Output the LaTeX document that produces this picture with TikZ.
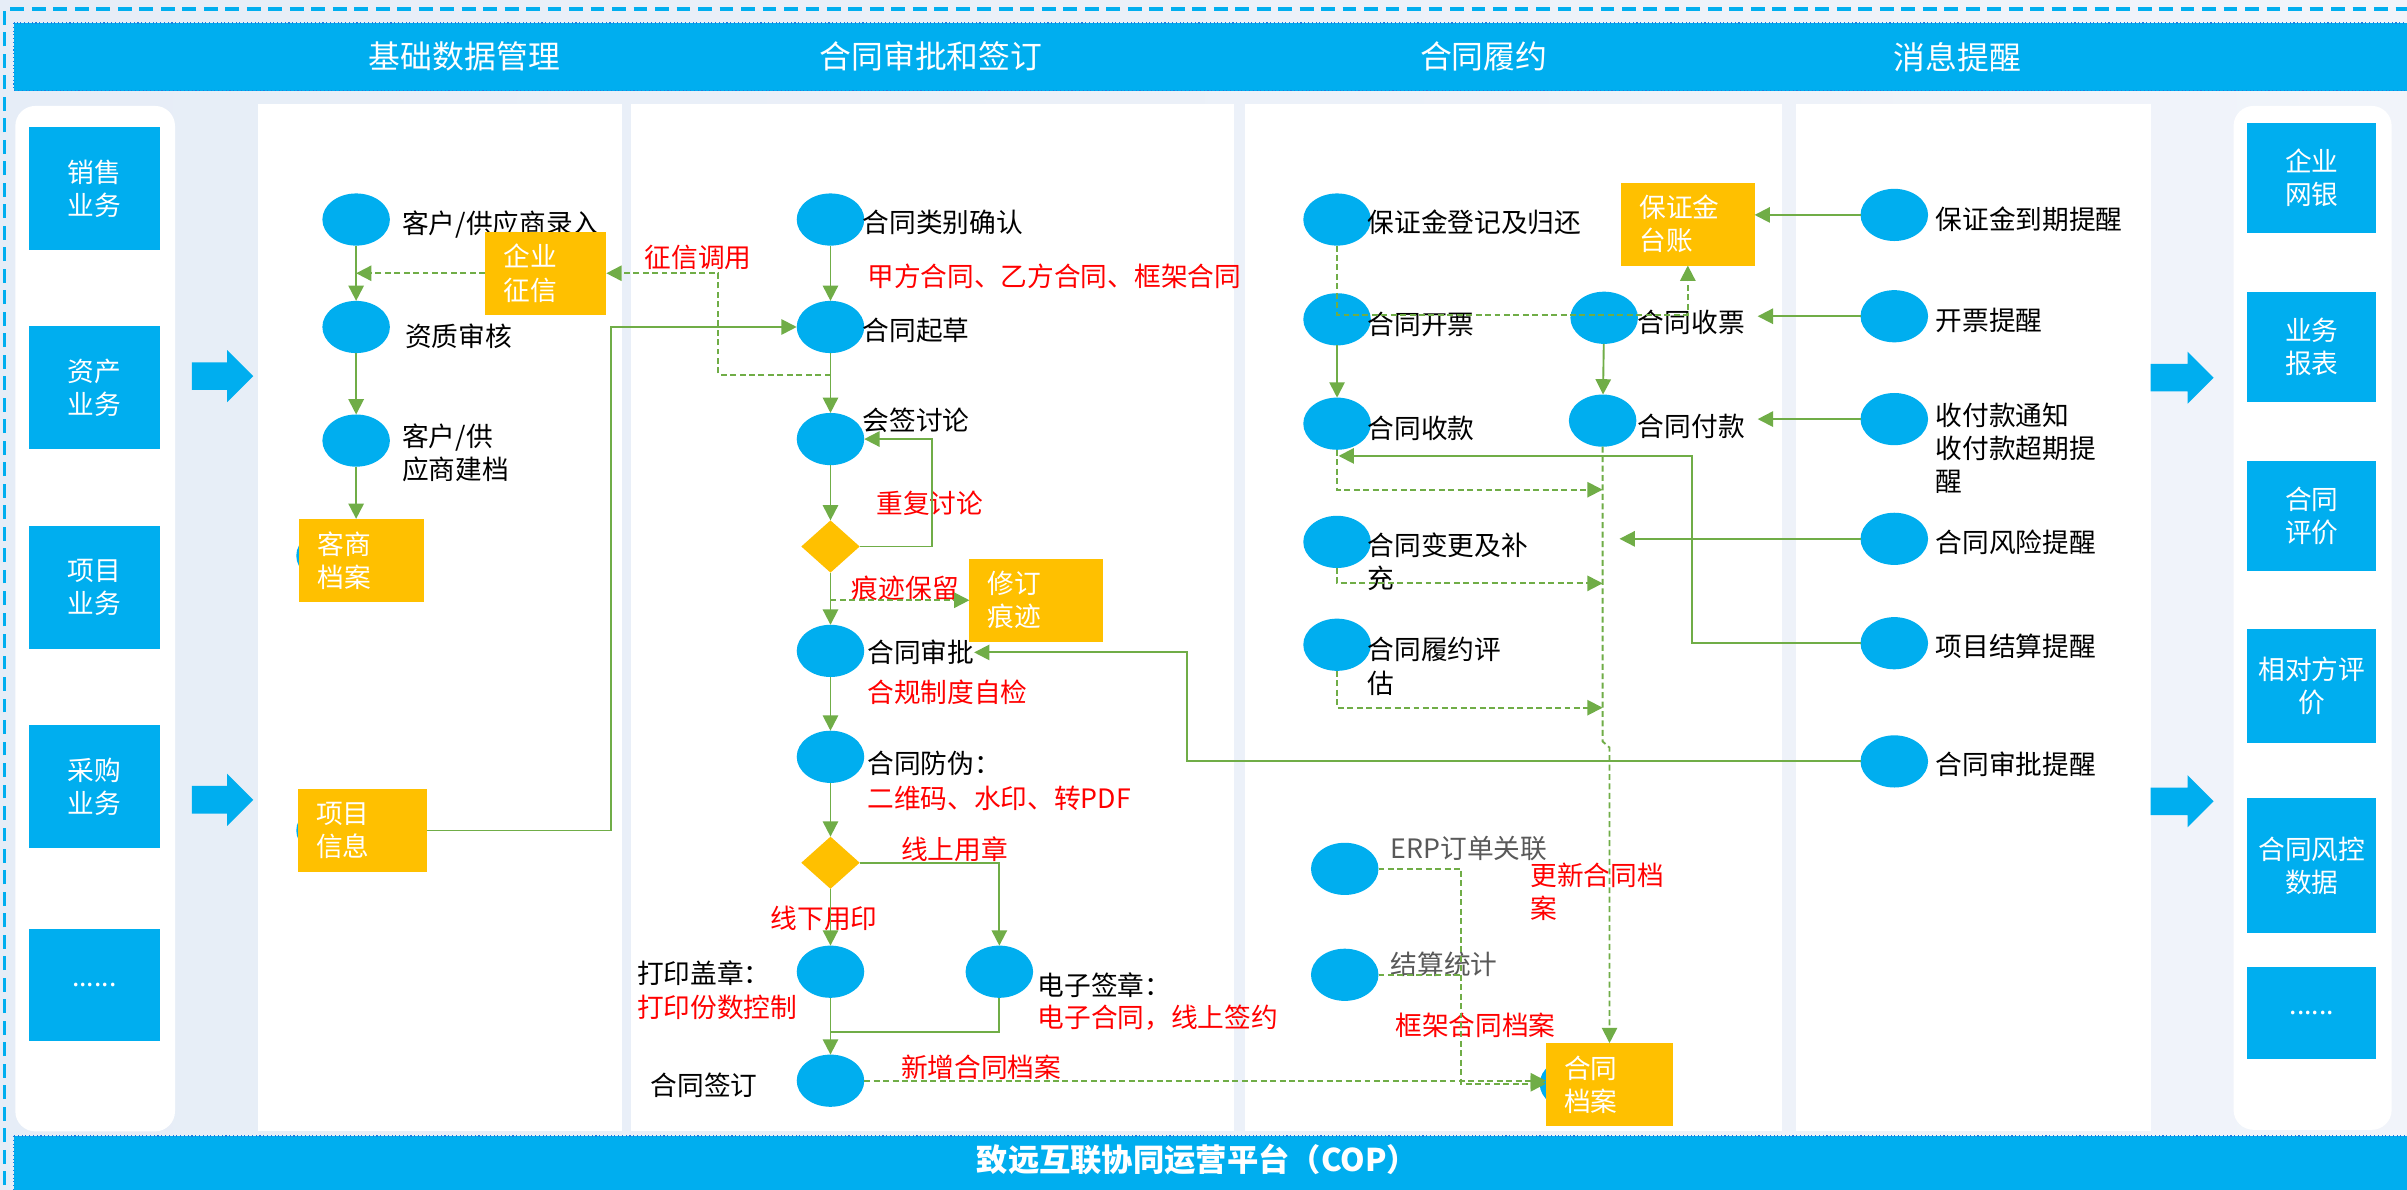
\documentclass[tikz,border=0pt]{standalone}
\usepackage{fontspec}
\setmainfont{Noto Sans CJK SC}
\usetikzlibrary{arrows.meta,shapes.geometric}
\definecolor{cy}{HTML}{00AEEF}
\definecolor{yl}{HTML}{FFC000}
\definecolor{gr}{HTML}{70AD47}
\definecolor{rd}{HTML}{FF0000}
\definecolor{gy}{HTML}{595959}
\definecolor{bgl}{HTML}{E6EDF7}
\definecolor{bgr}{HTML}{F1F4FA}
\definecolor{frm}{HTML}{1C7FE0}
\begin{document}
\begin{tikzpicture}[x=0.02cm, y=-0.02cm,
  every node/.style={inner sep=0pt, outer sep=0pt},
  bodyfont/.style={font=\fontsize{9.9}{12.3}\selectfont},
  txt/.style={bodyfont, anchor=west, align=left},
  rtxt/.style={txt, text=rd},
  gtxt/.style={txt, text=gy},
  circ/.style={ellipse, fill=cy, minimum width=0.88cm, minimum height=0.68cm},
  dia/.style={diamond, fill=yl, minimum width=0.76cm, minimum height=0.68cm},
  ybox/.style={bodyfont, fill=yl, text=white, align=left, inner xsep=0.24cm, minimum height=1.08cm},
  bbox/.style={bodyfont, fill=cy, text=white, align=center, minimum width=1.7cm},
  rbox/.style={bodyfont, fill=cy, text=white, align=center, minimum width=1.68cm},
  gl/.style={draw=gr, line width=0.7pt},
  dl/.style={gl, dash pattern=on 2.2pt off 1.3pt},
  ar/.style={-{Triangle[length=0.2cm,width=0.2cm]}},
  hdr/.style={font=\fontsize{11.8}{14}\selectfont, text=white}
]
\useasboundingbox (0,0) rectangle (1568,775);
% background
\shade[left color=bgl, right color=bgr] (0,0) rectangle (1568,775);
\draw[cy, line width=1.3pt, dash pattern=on 0.18cm off 0.1cm] (3,800) -- (3,6) -- (1600,6);
% side panels
\fill[white, rounded corners=0.26cm] (10,69) rectangle (114,737);
\fill[white, rounded corners=0.26cm] (1455,69) rectangle (1558,736);
% middle panels
\fill[white] (168,68) rectangle (405,737);
\fill[white] (411,68) rectangle (804,737);
\fill[white] (811,68) rectangle (1161,737);
\fill[white] (1170,68) rectangle (1401,737);
% header and footer bands
\fill[cy] (9,15) rectangle (1568,59);
\draw[frm, densely dotted, line width=0.4pt] (9,15) rectangle (1570,59);
\fill[cy] (9,740) rectangle (1568,775);
\draw[frm, densely dotted, line width=0.4pt] (9,740) rectangle (1570,777);
\node[hdr] (h1) at (302.5,37) {基础数据管理};
\node[hdr] (h2) at (606.5,37) {合同审批和签订};
\node[hdr] (h3) at (966.5,37) {合同履约};
\node[hdr] (h4) at (1275,37) {消息提醒};
\node[font=\fontsize{11.6}{14}\selectfont\bfseries, text=white] (cop) at (780,755) {致远互联协同运营平台（COP）};
% left boxes
\node[bbox, minimum height=1.6cm] (xs) at (61.5,123) {销售\\业务};
\node[bbox, minimum height=1.6cm] (zc) at (61.5,252.5) {资产\\业务};
\node[bbox, minimum height=1.6cm] (xmyw) at (61.5,382.5) {项目\\业务};
\node[bbox, minimum height=1.6cm] (cg) at (61.5,512.5) {采购\\业务};
\node[bbox, minimum height=1.46cm] (ld) at (61.5,641.5) {......};
% right boxes
\node[rbox, minimum height=1.44cm] (wy) at (1506,116) {企业\\网银};
\node[rbox, minimum height=1.44cm] (bb) at (1506,226) {业务\\报表};
\node[rbox, minimum height=1.44cm] (pj) at (1506,336) {合同\\评价};
\node[rbox, minimum height=1.48cm] (xd) at (1506,447) {相对方评\\价};
\node[rbox, minimum height=1.76cm] (fkd) at (1506,564) {合同风控\\数据};
\node[rbox, minimum height=1.2cm] (rd2) at (1506,660) {......};
% block arrows
\fill[cy] (125,236) -- (148,236) -- (148,228) -- (165,245) -- (148,262) -- (148,254) -- (125,254) -- cycle;
\fill[cy] (125,512) -- (148,512) -- (148,504) -- (165,521) -- (148,538) -- (148,530) -- (125,530) -- cycle;
\fill[cy] (1401,237) -- (1425,237) -- (1425,229) -- (1442,246) -- (1425,263) -- (1425,255) -- (1401,255) -- cycle;
\fill[cy] (1401,513) -- (1425,513) -- (1425,505) -- (1442,522) -- (1425,539) -- (1425,531) -- (1401,531) -- cycle;
% ===== panel 1 =====
\node[circ] (kh) at (232,143) {};
\node[circ] (zz) at (232,213) {};
\node[circ] (jd) at (232,287) {};
\node[circ] (ksE) at (215,362) {};
\node[circ] (xmE) at (215,541) {};
\node[ybox, text width=1.14cm] (ks) at (235.5,365) {客商\\档案};
\node[ybox, text width=1.2cm] (xmxx) at (236,541) {项目\\信息};
\node[txt] (lkh) at (262,146) {客户/供应商录入};
\node[ybox, text width=1.1cm] (qyzx) at (355.5,178) {企业\\征信};
\node[txt] (lzz) at (264,219) {资质审核};
\node[txt] (ljd) at (262,295) {客户/供\\应商建档};
\node[rtxt] (lzxdy) at (420,168) {征信调用};
% ===== panel 2 =====
\node[circ] (lb) at (541,143) {};
\node[circ] (qc) at (541,213) {};
\node[circ] (hq) at (541,286) {};
\node[dia] (dm1) at (541,356) {};
\node[circ] (spn) at (541,424) {};
\node[circ] (fw) at (541,493) {};
\node[dia] (dm2) at (541,562) {};
\node[circ] (dy) at (541,633) {};
\node[circ] (dz) at (651,633) {};
\node[circ] (qd) at (541,704) {};
\node[ybox, text width=1.26cm] (xdhj) at (675,391) {修订\\痕迹};
\node[txt] (llb) at (562,145) {合同类别确认};
\node[rtxt] (llx) at (565,180) {甲方合同、乙方合同、框架合同};
\node[txt] (lqc) at (562,215) {合同起草};
\node[txt] (lhq) at (562,274) {会签讨论};
\node[rtxt] (lcf) at (571,328) {重复讨论};
\node[rtxt] (lhj) at (555,383) {痕迹保留};
\node[txt] (spl) at (565,425) {合同审批};
\node[rtxt] (lhg) at (565,451) {合规制度自检};
\node[txt] (lfw) at (565,497) {合同防伪：};
\node[rtxt] (lfw2) at (565,520) {二维码、水印、转PDF};
\node[rtxt] (lxs) at (587,553) {线上用章};
\node[rtxt] (lxx) at (502,598) {线下用印};
\node[txt] (ldy) at (415,634) {打印盖章：};
\node[rtxt] (ldy2) at (415,656) {打印份数控制};
\node[txt] (ldz) at (676,642) {电子签章：};
\node[rtxt] (ldz2) at (676,663) {电子合同，线上签约};
\node[txt] (lqd) at (424,707) {合同签订};
\node[rtxt] (lxz) at (587,695) {新增合同档案};
% ===== panel 3 =====
\node[circ] (bzj) at (871,143) {};
\node[circ] (kp) at (871,208) {};
\node[circ] (sp) at (1045,207) {};
\node[circ] (sk) at (871,276) {};
\node[circ] (fk) at (1044,274) {};
\node[circ] (bgz) at (871,353) {};
\node[circ] (py) at (871,420) {};
\node[circ] (erp) at (876,566) {};
\node[circ] (jstj) at (876,635) {};
\node[circ] (daE) at (1025,706) {};
\node[ybox, text width=1.26cm] (tz) at (1099.5,146) {保证金\\台账};
\node[ybox, text width=1.18cm] (htda) at (1048.5,706.5) {合同\\档案};
\node[txt] (lbzj) at (891,145) {保证金登记及归还};
\node[txt] (lkp) at (891,211) {合同开票};
\node[txt] (lsp) at (1067,210) {合同收票};
\node[txt] (lsk) at (891,279) {合同收款};
\node[txt] (lfk) at (1067,278) {合同付款};
\node[txt] (lbg) at (891,366) {合同变更及补\\充};
\node[txt] (lpy) at (891,434) {合同履约评\\估};
\node[gtxt] (lerp) at (906,553) {ERP订单关联};
\node[gtxt] (ljs) at (906,628) {结算统计};
\node[rtxt] (lgx) at (997,581) {更新合同档\\案};
\node[rtxt] (lkj) at (909,668) {框架合同档案};
% ===== panel 4 =====
\node[circ] (bztx) at (1234,140) {};
\node[circ] (kptx) at (1234,206) {};
\node[circ] (sfktx) at (1234,273) {};
\node[circ] (fxtx) at (1234,351) {};
\node[circ] (jstx) at (1234,419) {};
\node[circ] (sptx) at (1234,496) {};
\node[txt] (lbztx) at (1261,143) {保证金到期提醒};
\node[txt] (lkptx) at (1261,209) {开票提醒};
\node[txt] (lsfk) at (1261,292) {收付款通知\\收付款超期提\\醒};
\node[txt] (lfx) at (1261,353) {合同风险提醒};
\node[txt] (ljstx) at (1261,421) {项目结算提醒};
\node[txt] (lsptx) at (1261,498) {合同审批提醒};
% ===== coordinates =====
\coordinate (zxj) at (541,244);
\coordinate (zxk) at (468,244);
\coordinate (xmk) at (398,213);
\coordinate (loopk) at (607,320);
\coordinate (hjk) at (541,391);
\coordinate (spk) at (773,425);
\coordinate (mk) at (541,672);
\coordinate (tzk) at (1099.5,205);
\coordinate (kpe) at (1145,206);
\coordinate (sfke) at (1145,273);
\coordinate (fxe) at (1055,351);
\coordinate (jsk) at (1102,297);
\coordinate (skb) at (872,297);
\coordinate (v1) at (1044,319);
\coordinate (v2) at (1044,380);
\coordinate (v3) at (1044,461);
\coordinate (vj1) at (1044,483);
\coordinate (vj2) at (1048.5,487);
\coordinate (ek) at (952,706);
% ===== connectors panel 1 =====
\draw[gl, ar] (kh) -- (zz);
\draw[gl, ar] (zz) -- (jd);
\draw[gl, ar] (jd.south) -- (jd.south |- ks.north);
\draw[dl, ar] (qyzx.west) -- (qyzx.west -| kh);
\draw[dl, ar] (zxj) -- (zxk) |- (qyzx.east);
\draw[gl, ar] (xmxx.east) -| (xmk) -- (qc.west);
% ===== connectors panel 2 =====
\draw[gl, ar] (lb) -- (qc);
\draw[gl, ar] (qc) -- (hq);
\draw[gl, ar] (hq) -- (dm1);
\draw[gl, ar] (dm1) -- (spn);
\draw[gl, ar] (spn) -- (fw);
\draw[gl, ar] (fw) -- (dm2);
\draw[gl, ar] (dm2) -- (dy);
\draw[gl, ar] (dy) -- (qd);
\draw[gl, ar] (dm1.east) -| (loopk) |- (hq.east);
\draw[dl, ar] (hjk) -- (xdhj.west);
\draw[gl, ar] (dm2.east) -| (dz);
\draw[gl] (dz) |- (mk);
\draw[dl, ar] (qd.east) -- (qd.east -| htda.west);
\draw[gl, ar] (sptx.west) -| (spk) -- (spl.east);
% ===== connectors panel 3 =====
\draw[dl, ar] (bzj) |- (tzk) -- (tz.south);
\draw[gl, ar] (kp) -- (sk);
\draw[gl, ar] (sp) -- (fk);
\draw[gl, ar] (bztx.west) -- (bztx.west -| tz.east);
\draw[gl, ar] (kptx.west) -- (kpe);
\draw[gl, ar] (sfktx.west) -- (sfke);
\draw[gl, ar] (fxtx.west) -- (fxe);
\draw[gl, ar] (jstx.west) -| (jsk) -- (skb);
\draw[dl, ar] (sk) |- (v1);
\draw[dl, ar] (bgz) |- (v2);
\draw[dl, ar] (py) |- (v3);
\draw[dl, ar] (fk) -- (vj1) -- (vj2) -- (htda.north);
\draw[dl, ar] (erp.east) -| (ek) -- (ek -| htda.west);
\draw[dl] (jstj.east) -- (jstj.east -| ek);
\end{tikzpicture}
\end{document}
